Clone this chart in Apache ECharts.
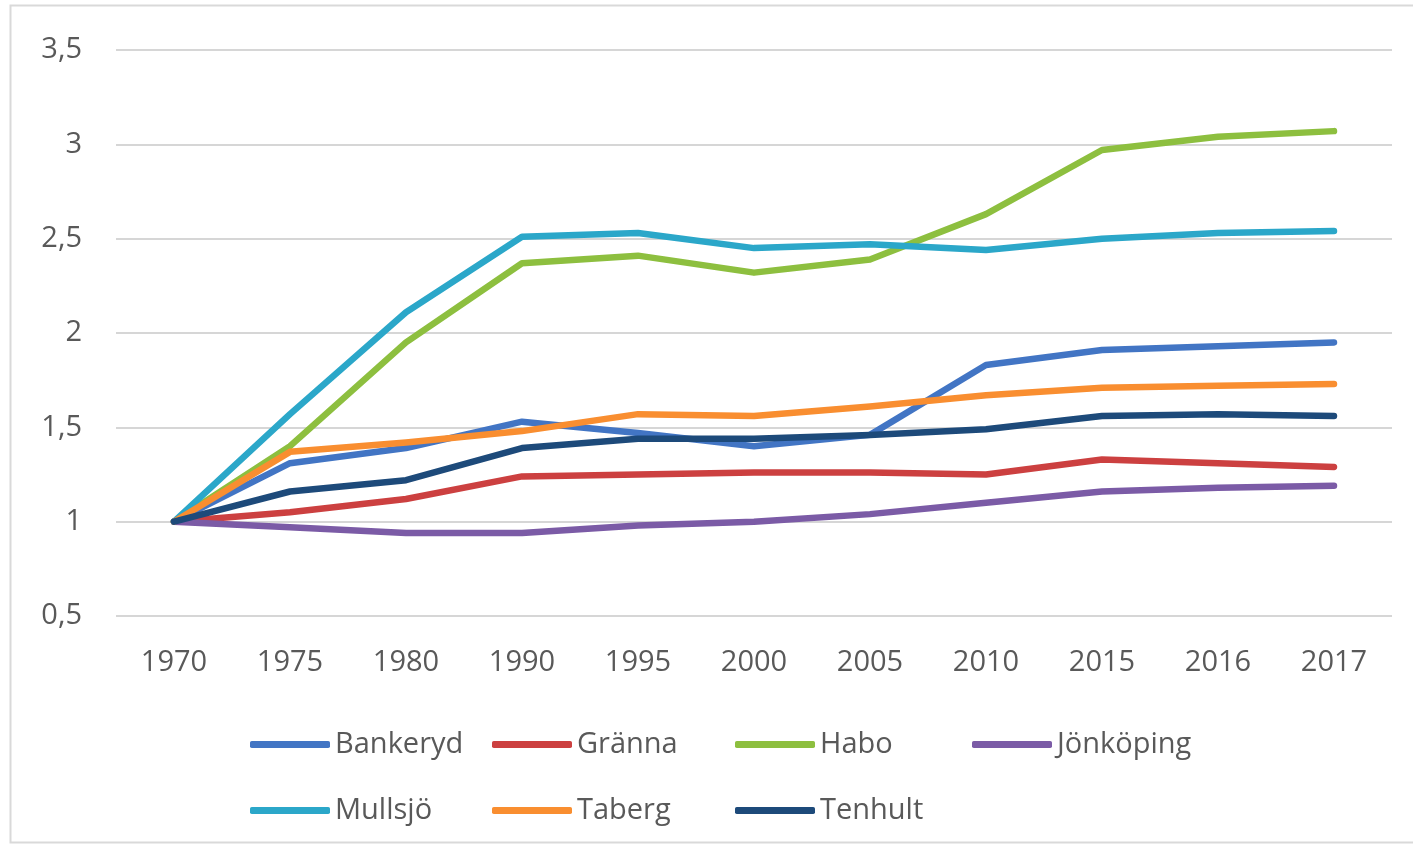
<!DOCTYPE html>
<html>
<head>
<meta charset="utf-8">
<script src="https://cdn.jsdelivr.net/npm/echarts@6/dist/echarts.min.js"></script>
<style>
  html, body { margin: 0; padding: 0; background: #fff; }
  #chart { width: 1413px; height: 854px; }
</style>
</head>
<body>
<div id="chart"></div>
<script>
  // år (kategorier)
  var years = ['1970', '1975', '1980', '1990', '1995', '2000', '2005', '2010', '2015', '2016', '2017'];

  // index, 1970 = 1
  var bankeryd  = [1, 1.31, 1.39, 1.53, 1.47, 1.40, 1.46, 1.83, 1.91, 1.93, 1.95];
  var granna    = [1, 1.05, 1.12, 1.24, 1.25, 1.26, 1.26, 1.25, 1.33, 1.31, 1.29];
  var habo      = [1, 1.40, 1.95, 2.37, 2.41, 2.32, 2.39, 2.63, 2.97, 3.04, 3.07];
  var jonkoping = [1, 0.97, 0.94, 0.94, 0.98, 1.00, 1.04, 1.10, 1.16, 1.18, 1.19];
  var mullsjo   = [1, 1.57, 2.11, 2.51, 2.53, 2.45, 2.47, 2.44, 2.50, 2.53, 2.54];
  var taberg    = [1, 1.37, 1.42, 1.48, 1.57, 1.56, 1.61, 1.67, 1.71, 1.72, 1.73];
  var tenhult   = [1, 1.16, 1.22, 1.39, 1.44, 1.44, 1.46, 1.49, 1.56, 1.57, 1.56];

  var names  = ['Bankeryd', 'Gränna', 'Habo', 'Jönköping', 'Mullsjö', 'Taberg', 'Tenhult'];
  var values = [bankeryd, granna, habo, jonkoping, mullsjo, taberg, tenhult];
  var colors = ['#4275c4', '#cc4040', '#8dbf3f', '#7b5ba6', '#2ba7c9', '#f98e30', '#1d4a7a'];

  var font = '"Open Sans", sans-serif';
  var textColor = '#595959';

  var series = [];
  for (var i = 0; i < names.length; i++) {
    series.push({
      name: names[i],
      type: 'line',
      data: values[i],
      showSymbol: false,
      symbol: 'none',
      lineStyle: { width: 6.5, color: colors[i], cap: 'round', join: 'round' },
      itemStyle: { color: colors[i] }
    });
  }

  // legend i 4 kolumner, 2 rader
  var colLeft = [245, 487, 730, 967];
  var rowTop = [725, 791];
  var legends = [];
  for (var j = 0; j < names.length; j++) {
    legends.push({
      data: [names[j]],
      left: colLeft[j % 4],
      top: rowTop[Math.floor(j / 4)],
      icon: 'roundRect',
      itemWidth: 80,
      itemHeight: 7,
      textStyle: { fontFamily: font, fontSize: 29, color: textColor }
    });
  }

  var option = {
    animation: false,
    color: colors,
    graphic: [{
      type: 'rect',
      shape: { x: 10.5, y: 5.5, width: 1430, height: 837 },
      style: { fill: 'none', stroke: '#d9d9d9', lineWidth: 2 }
    }],
    legend: legends,
    grid: { left: 116, right: 21, top: 50, bottom: 238 },
    xAxis: {
      type: 'category',
      data: years,
      boundaryGap: true,
      axisLine: { show: false },
      axisTick: { show: false },
      axisLabel: { fontFamily: font, fontSize: 29, color: textColor, margin: 32 }
    },
    yAxis: {
      type: 'value',
      min: 0.5,
      max: 3.5,
      interval: 0.5,
      axisLine: { show: false },
      axisTick: { show: false },
      splitLine: { lineStyle: { color: '#d6d6d6', width: 2 } },
      axisLabel: {
        fontFamily: font, fontSize: 29, color: textColor, margin: 34,
        formatter: function (v) { return String(v).replace('.', ','); }
      }
    },
    series: series
  };

  var chart = echarts.init(document.getElementById('chart'));
  chart.setOption(option);
</script>
</body>
</html>
